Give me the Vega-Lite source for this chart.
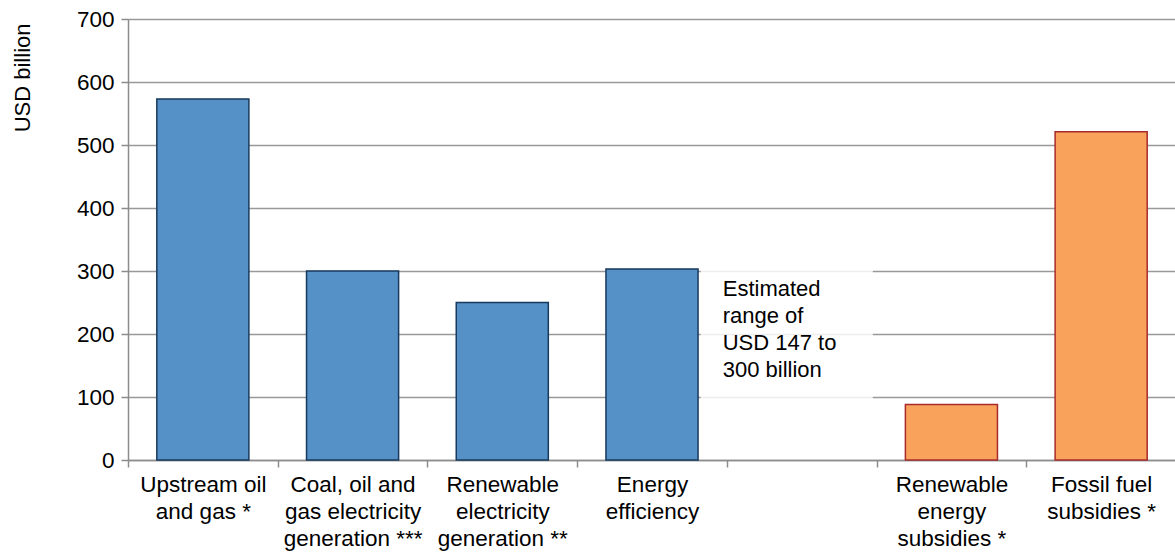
{
  "$schema": "https://vega.github.io/schema/vega-lite/v6.json",
  "width": 1048,
  "height": 441,
  "autosize": "none",
  "padding": {"left": 128, "top": 19, "right": 0, "bottom": 96},
  "background": "white",
  "config": {
    "font": "Liberation Sans",
    "view": {"stroke": null},
    "axis": {
      "labelFont": "Liberation Sans",
      "titleFont": "Liberation Sans",
      "labelColor": "#000000",
      "titleColor": "#000000",
      "domainColor": "#8c8c8c",
      "tickColor": "#8c8c8c",
      "domainWidth": 1.5,
      "tickWidth": 1.5
    }
  },
  "datasets": {
    "bars": [
      {"category": "Upstream oil|and gas *", "value": 573, "group": "investment"},
      {"category": "Coal, oil and|gas electricity|generation ***", "value": 300, "group": "investment"},
      {"category": "Renewable|electricity|generation **", "value": 250, "group": "investment"},
      {"category": "Energy|efficiency", "value": 303, "group": "investment"},
      {"category": "Renewable|energy|subsidies *", "value": 88, "group": "subsidy"},
      {"category": "Fossil fuel|subsidies *", "value": 521, "group": "subsidy"}
    ],
    "note": [
      {"category": "gap", "low": 95, "high": 306, "textY": 287, "note": "Estimated\nrange of\nUSD 147 to\n300 billion"}
    ]
  },
  "layer": [
    {
      "data": {"name": "bars"},
      "mark": {"type": "bar", "width": {"band": 0.615}, "strokeWidth": 1.5},
      "encoding": {
        "x": {
          "field": "category",
          "type": "nominal",
          "sort": null,
          "scale": {
            "domain": [
              "Upstream oil|and gas *",
              "Coal, oil and|gas electricity|generation ***",
              "Renewable|electricity|generation **",
              "Energy|efficiency",
              "gap",
              "Renewable|energy|subsidies *",
              "Fossil fuel|subsidies *"
            ],
            "paddingInner": 0,
            "paddingOuter": 0
          },
          "axis": {
            "title": null,
            "labelAngle": 0,
            "tickBand": "extent",
            "tickSize": 7,
            "labelFontSize": 22.5,
            "labelPadding": 6,
            "labelLineHeight": 27,
            "labelBaseline": "top",
            "labelOverlap": false,
            "labelBound": false,
            "labelLimit": 400,
            "labelExpr": "(datum.value == null || datum.value == 'gap') ? '' : split(datum.value, '|')",
            "grid": false
          }
        },
        "y": {
          "field": "value",
          "type": "quantitative",
          "scale": {"domain": [0, 700], "nice": false},
          "axis": {
            "title": "USD billion",
            "titleFontSize": 22,
            "titleFontWeight": "normal",
            "titleAngle": -90,
            "titleAnchor": "end",
            "titleAlign": "right",
            "titleBaseline": "middle",
            "titleX": -106,
            "titleY": 4,
            "values": [0, 100, 200, 300, 400, 500, 600, 700],
            "labelFontSize": 22.5,
            "labelPadding": 7,
            "tickSize": 7,
            "grid": true,
            "gridColor": "#999999",
            "gridWidth": 1.5
          }
        },
        "color": {
          "field": "group",
          "type": "nominal",
          "scale": {"domain": ["investment", "subsidy"], "range": ["#5590C6", "#F8A25C"]},
          "legend": null
        },
        "stroke": {
          "field": "group",
          "type": "nominal",
          "scale": {"domain": ["investment", "subsidy"], "range": ["#173a5e", "#A82A2A"]},
          "legend": null
        }
      }
    },
    {
      "data": {"name": "note"},
      "mark": {"type": "bar", "width": {"band": 1.15}, "xOffset": -15, "fill": "white", "fillOpacity": 0.82, "strokeWidth": 0},
      "encoding": {
        "x": {"field": "category", "type": "nominal"},
        "y": {"field": "low", "type": "quantitative"},
        "y2": {"field": "high"}
      }
    },
    {
      "data": {"name": "note"},
      "mark": {"type": "text", "align": "left", "baseline": "top", "dx": -79, "fontSize": 22, "lineHeight": 27, "lineBreak": "\n", "color": "#000000"},
      "encoding": {
        "x": {"field": "category", "type": "nominal"},
        "y": {"field": "textY", "type": "quantitative"},
        "text": {"field": "note"}
      }
    }
  ]
}
